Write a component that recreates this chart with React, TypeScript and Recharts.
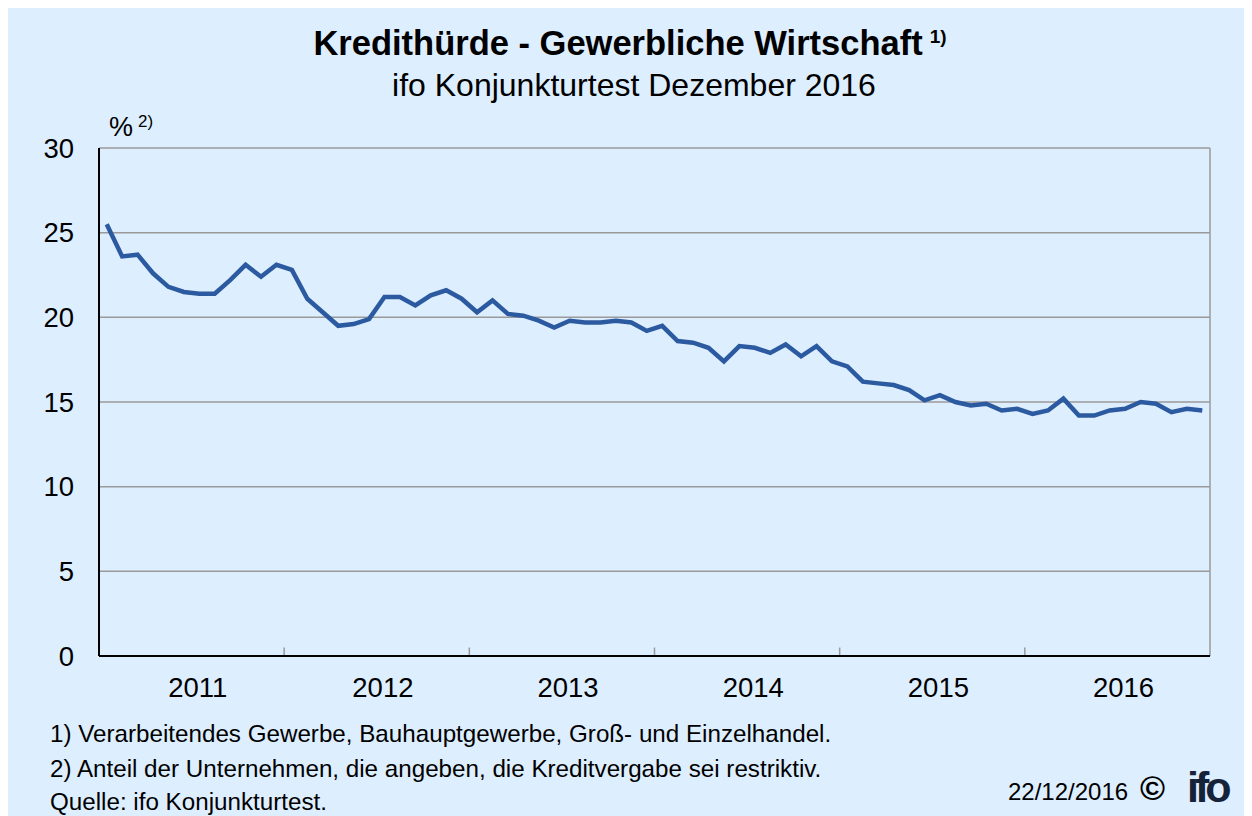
import React from "react";
import { LineChart, Line, XAxis, YAxis, CartesianGrid, ReferenceLine } from "recharts";

const years = ["2011", "2012", "2013", "2014", "2015", "2016"];
const v2011 = [25.5, 23.6, 23.7, 22.6, 21.8, 21.5, 21.4, 21.4, 22.2, 23.1, 22.4, 23.1];
const v2012 = [22.8, 21.1, 20.3, 19.5, 19.6, 19.9, 21.2, 21.2, 20.7, 21.3, 21.6, 21.1];
const v2013 = [20.3, 21.0, 20.2, 20.1, 19.8, 19.4, 19.8, 19.7, 19.7, 19.8, 19.7, 19.2];
const v2014 = [19.5, 18.6, 18.5, 18.2, 17.4, 18.3, 18.2, 17.9, 18.4, 17.7, 18.3, 17.4];
const v2015 = [17.1, 16.2, 16.1, 16.0, 15.7, 15.1, 15.4, 15.0, 14.8, 14.9, 14.5, 14.6];
const v2016 = [14.3, 14.5, 15.2, 14.2, 14.2, 14.5, 14.6, 15.0, 14.9, 14.4, 14.6, 14.5];
const yTicks = [0, 5, 10, 15, 20, 25, 30];

const allValues = [v2011, v2012, v2013, v2014, v2015, v2016];
const data = allValues.flatMap((arr, yi) =>
  arr.map((v, mi) => ({ idx: yi * 12 + mi, label: `${years[yi]}-${mi + 1}`, value: v }))
);
const labelTicks = years.map((_, i) => i * 12 + 5.9);
const yearBounds = years.slice(1).map((_, i) => (i + 1) * 12 - 0.5);

const FONT = "'Liberation Sans', Arial, Helvetica, sans-serif";
const BG = "#DDEEFF";

const XTick = (props: any) => {
  const { x, y, payload } = props;
  const i = labelTicks.indexOf(payload.value);
  return (
    <text x={x} y={y} dy="0.71em" textAnchor="middle" fill="#000" fontSize={27.5} fontFamily={FONT}>
      {i >= 0 ? years[i] : ""}
    </text>
  );
};

const note: React.CSSProperties = { position: "absolute", left: 42, fontSize: 24.2, color: "#000", whiteSpace: "nowrap" };

export default function App() {
  return (
    <div style={{ position: "relative", width: 1244, height: 808, background: BG, fontFamily: FONT, overflow: "hidden" }}>
      <div style={{ position: "absolute", top: 16, left: 0, width: 1244, textAlign: "center", fontSize: 34.5, fontWeight: "bold", color: "#000", whiteSpace: "nowrap" }}>
        Kredithürde - Gewerbliche Wirtschaft<span style={{ fontSize: 19, verticalAlign: "top", position: "relative", top: 2, marginLeft: 7 }}>1)</span>
      </div>
      <div style={{ position: "absolute", top: 59, left: 4, width: 1244, textAlign: "center", fontSize: 32, color: "#000", whiteSpace: "nowrap" }}>
        ifo Konjunkturtest Dezember 2016
      </div>
      <div style={{ position: "absolute", top: 104, left: 101, fontSize: 27, color: "#000" }}>
        %<span style={{ fontSize: 17, verticalAlign: "top", position: "relative", top: 0, marginLeft: 5 }}>2)</span>
      </div>
      <div style={{ ...note, top: 712 }}>
        1) Verarbeitendes Gewerbe, Bauhauptgewerbe, Groß- und Einzelhandel.
      </div>
      <div style={{ ...note, top: 747 }}>
        2) Anteil der Unternehmen, die angeben, die Kreditvergabe sei restriktiv.
      </div>
      <div style={{ ...note, top: 780 }}>
        Quelle: ifo Konjunkturtest.
      </div>
      <div style={{ ...note, top: 770, left: 1000, fontSize: 24 }}>
        22/12/2016
      </div>
      <div style={{ position: "absolute", top: 761, left: 1132, fontSize: 34, fontWeight: "bold", color: "#000" }}>
        ©
      </div>
      <div style={{ position: "absolute", top: 755, left: 1179, fontSize: 43, fontWeight: 900, color: "#152238", letterSpacing: -4 }}>
        ifo
      </div>
      <div style={{ position: "absolute", top: 0, left: 0 }}>
        <LineChart width={1244} height={808} data={data} margin={{ top: 140, right: 42, left: 31, bottom: 100 }}>
          <CartesianGrid vertical={false} stroke="#9a9a9a" strokeWidth={1.5} />
          <XAxis
            dataKey="idx"
            type="number"
            domain={[-0.5, 71.5]}
            ticks={labelTicks}
            interval={0}
            tick={<XTick />}
            tickLine={false}
            tickSize={0}
            tickMargin={21}
            height={60}
            axisLine={{ stroke: "#000", strokeWidth: 2 }}
          />
          <YAxis
            type="number"
            domain={[0, 30]}
            ticks={yTicks}
            interval={0}
            width={60}
            tickLine={false}
            tickSize={0}
            tickMargin={25}
            axisLine={{ stroke: "#000", strokeWidth: 2 }}
            tick={{ fill: "#000", fontSize: 27.5, fontFamily: FONT }}
          />
          <ReferenceLine x={71.5} stroke="#9a9a9a" strokeWidth={1.5} />
          {yearBounds.map((b) => (
            <ReferenceLine
              key={b}
              segment={[{ x: b, y: 0 }, { x: b, y: 0.5 }]}
              stroke="#9a9a9a"
              strokeWidth={1.5}
            />
          ))}
          <Line
            type="linear"
            dataKey="value"
            stroke="#2C5AA0"
            strokeWidth={4.5}
            dot={false}
            isAnimationActive={false}
          />
        </LineChart>
      </div>
    </div>
  );
}
